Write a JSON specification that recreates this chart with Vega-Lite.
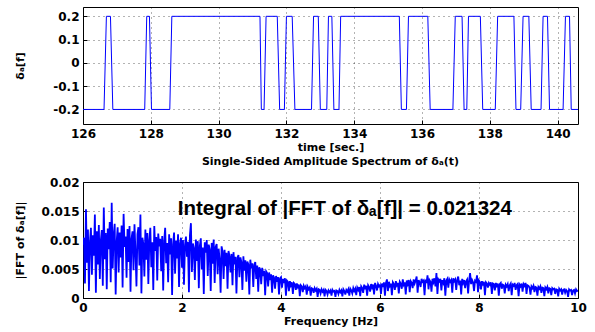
{
  "$schema": "https://vega.github.io/schema/vega-lite/v6.json",
  "background": "white",
  "padding": {"left": 13, "top": 6, "right": 5, "bottom": 0},
  "spacing": 2,
  "config": {
    "font": "DejaVu Sans",
    "view": {"stroke": "black", "strokeWidth": 1},
    "axis": {
      "labelFont": "DejaVu Sans", "labelFontWeight": "bold", "labelFontSize": 12, "labelColor": "black",
      "titleFont": "DejaVu Sans", "titleFontWeight": "bold", "titleFontSize": 11, "titleColor": "black",
      "domain": false, "tickColor": "black", "tickSize": -4, "labelPadding": 8,
      "labelOverlap": false, "labelFlush": false,
      "grid": true, "gridColor": "black", "gridDash": [1, 4], "gridOpacity": 0.6
    },
    "axisY": {"minExtent": 40, "maxExtent": 40, "titlePadding": 18},
    "axisX": {"titlePadding": 2}
  },
  "vconcat": [
    {
      "width": 495,
      "height": 117,
      "data": {"values": [
        {"t": 126.0, "d": -0.2}, {"t": 126.62, "d": -0.2}, {"t": 126.69, "d": 0.2}, {"t": 126.81, "d": 0.2}, {"t": 126.88, "d": -0.2},
        {"t": 127.82, "d": -0.2}, {"t": 127.88, "d": 0.2}, {"t": 127.96, "d": 0.2}, {"t": 128.02, "d": -0.2},
        {"t": 128.56, "d": -0.2}, {"t": 128.62, "d": 0.2}, {"t": 131.22, "d": 0.2}, {"t": 131.26, "d": -0.2},
        {"t": 131.34, "d": -0.2}, {"t": 131.40, "d": 0.2}, {"t": 131.73, "d": 0.2}, {"t": 131.80, "d": -0.2},
        {"t": 131.94, "d": -0.2}, {"t": 132.00, "d": 0.2}, {"t": 132.17, "d": 0.2}, {"t": 132.25, "d": -0.2},
        {"t": 132.74, "d": -0.2}, {"t": 132.80, "d": 0.2}, {"t": 132.94, "d": 0.2}, {"t": 133.00, "d": -0.2},
        {"t": 133.19, "d": -0.2}, {"t": 133.24, "d": 0.2}, {"t": 133.34, "d": 0.2}, {"t": 133.40, "d": -0.2},
        {"t": 133.55, "d": -0.2}, {"t": 133.60, "d": 0.2}, {"t": 135.33, "d": 0.2}, {"t": 135.39, "d": -0.2},
        {"t": 135.54, "d": -0.2}, {"t": 135.60, "d": 0.2}, {"t": 136.17, "d": 0.2}, {"t": 136.24, "d": -0.2},
        {"t": 136.91, "d": -0.2}, {"t": 136.98, "d": 0.2}, {"t": 137.18, "d": 0.2}, {"t": 137.24, "d": -0.2},
        {"t": 137.32, "d": -0.2}, {"t": 137.37, "d": 0.2}, {"t": 137.72, "d": 0.2}, {"t": 137.79, "d": -0.2},
        {"t": 138.16, "d": -0.2}, {"t": 138.23, "d": 0.2}, {"t": 138.71, "d": 0.2}, {"t": 138.77, "d": -0.2},
        {"t": 138.91, "d": -0.2}, {"t": 138.98, "d": 0.2}, {"t": 139.15, "d": 0.2}, {"t": 139.22, "d": -0.2},
        {"t": 139.51, "d": -0.2}, {"t": 139.57, "d": 0.2}, {"t": 139.70, "d": 0.2}, {"t": 139.76, "d": -0.2},
        {"t": 140.16, "d": -0.2}, {"t": 140.23, "d": 0.2}, {"t": 140.35, "d": 0.2}, {"t": 140.40, "d": -0.2},
        {"t": 140.6, "d": -0.2}
      ]},
      "mark": {"type": "line", "color": "#0000ff", "strokeWidth": 1, "clip": true},
      "encoding": {
        "x": {"field": "t", "type": "quantitative",
              "scale": {"domain": [126, 140.6], "nice": false, "zero": false},
              "axis": {"values": [126, 128, 130, 132, 134, 136, 138, 140], "title": "time [sec.]"}},
        "y": {"field": "d", "type": "quantitative",
              "scale": {"domain": [-0.2625, 0.24], "nice": false, "zero": false},
              "axis": {"values": [-0.2, -0.1, 0, 0.1, 0.2],
                       "labelExpr": "replace(format(datum.value, '.1~f'), '−', '-')",
                       "title": "δₐ[f]"}}
      }
    },
    {
      "width": 495,
      "height": 116,
      "title": {"text": "Single-Sided Amplitude Spectrum of  δₐ(t)", "font": "DejaVu Sans", "fontSize": 11,
                "fontWeight": "bold", "color": "black", "offset": 9, "anchor": "middle"},
      "encoding": {
        "x": {"field": "f", "type": "quantitative",
              "scale": {"domain": [0, 10], "nice": false},
              "axis": {"values": [0, 2, 4, 6, 8, 10], "title": "Frequency [Hz]"}},
        "y": {"field": "v", "type": "quantitative",
              "scale": {"domain": [0, 0.02], "nice": false},
              "axis": {"values": [0, 0.005, 0.01, 0.015, 0.02], "format": ".3~f", "title": "|FFT of δₐ[f]|"}}
      },
      "layer": [
        {
          "data": {"values": [
            {"f":0,"v":0.0092},{"f":0.02,"v":0.0104},{"f":0.04,"v":0.0025},{"f":0.06,"v":0.0153},{"f":0.08,"v":0.0061},
            {"f":0.1,"v":0.0118},{"f":0.12,"v":0.0012},{"f":0.14,"v":0.0096},{"f":0.16,"v":0.0121},{"f":0.18,"v":0.0040},
            {"f":0.2,"v":0.0108},{"f":0.22,"v":0.0073},{"f":0.24,"v":0.0144},{"f":0.26,"v":0.0009},{"f":0.28,"v":0.0115},
            {"f":0.3,"v":0.0058},{"f":0.32,"v":0.0126},{"f":0.34,"v":0.0033},{"f":0.36,"v":0.0099},{"f":0.38,"v":0.0117},
            {"f":0.4,"v":0.0021},{"f":0.42,"v":0.0156},{"f":0.44,"v":0.0067},{"f":0.46,"v":0.0112},{"f":0.48,"v":0.0015},
            {"f":0.5,"v":0.0120},{"f":0.52,"v":0.0084},{"f":0.54,"v":0.0131},{"f":0.56,"v":0.0027},{"f":0.58,"v":0.0164},
            {"f":0.6,"v":0.0051},{"f":0.62,"v":0.0109},{"f":0.64,"v":0.0128},{"f":0.66,"v":0.0006},{"f":0.68,"v":0.0097},
            {"f":0.7,"v":0.0122},{"f":0.72,"v":0.0044},{"f":0.74,"v":0.0113},{"f":0.76,"v":0.0070},{"f":0.78,"v":0.0125},
            {"f":0.8,"v":0.0018},{"f":0.82,"v":0.0145},{"f":0.84,"v":0.0088},{"f":0.86,"v":0.0106},{"f":0.88,"v":0.0035},
            {"f":0.9,"v":0.0119},{"f":0.92,"v":0.0062},{"f":0.94,"v":0.0124},{"f":0.96,"v":0.0011},{"f":0.98,"v":0.0102},
            {"f":1.0,"v":0.0115},{"f":1.02,"v":0.0048},{"f":1.04,"v":0.0127},{"f":1.06,"v":0.0079},{"f":1.08,"v":0.0020},
            {"f":1.1,"v":0.0110},{"f":1.12,"v":0.0122},{"f":1.14,"v":0.0056},{"f":1.16,"v":0.0144},{"f":1.18,"v":0.0008},
            {"f":1.2,"v":0.0104},{"f":1.22,"v":0.0093},{"f":1.24,"v":0.0037},{"f":1.26,"v":0.0118},{"f":1.28,"v":0.0066},
            {"f":1.3,"v":0.0112},{"f":1.32,"v":0.0024},{"f":1.34,"v":0.0100},{"f":1.36,"v":0.0121},{"f":1.38,"v":0.0053},
            {"f":1.4,"v":0.0096},{"f":1.42,"v":0.0014},{"f":1.44,"v":0.0124},{"f":1.46,"v":0.0081},{"f":1.48,"v":0.0105},
            {"f":1.5,"v":0.0030},{"f":1.52,"v":0.0111},{"f":1.54,"v":0.0089},{"f":1.56,"v":0.0102},{"f":1.58,"v":0.0046},
            {"f":1.6,"v":0.0107},{"f":1.62,"v":0.0013},{"f":1.64,"v":0.0098},{"f":1.66,"v":0.0121},{"f":1.68,"v":0.0060},
            {"f":1.7,"v":0.0095},{"f":1.72,"v":0.0027},{"f":1.74,"v":0.0110},{"f":1.76,"v":0.0075},{"f":1.78,"v":0.0103},
            {"f":1.8,"v":0.0005},{"f":1.82,"v":0.0092},{"f":1.84,"v":0.0113},{"f":1.86,"v":0.0042},{"f":1.88,"v":0.0099},
            {"f":1.9,"v":0.0068},{"f":1.92,"v":0.0110},{"f":1.94,"v":0.0019},{"f":1.96,"v":0.0094},{"f":1.98,"v":0.0104},
            {"f":2.0,"v":0.0052},{"f":2.02,"v":0.0100},{"f":2.04,"v":0.0023},{"f":2.06,"v":0.0091},{"f":2.08,"v":0.0106},
            {"f":2.1,"v":0.0071},{"f":2.12,"v":0.0097},{"f":2.14,"v":0.0010},{"f":2.16,"v":0.0108},{"f":2.18,"v":0.0129},
            {"f":2.2,"v":0.0045},{"f":2.22,"v":0.0094},{"f":2.24,"v":0.0086},{"f":2.26,"v":0.0031},{"f":2.28,"v":0.0101},
            {"f":2.3,"v":0.0064},{"f":2.32,"v":0.0098},{"f":2.34,"v":0.0017},{"f":2.36,"v":0.0090},{"f":2.38,"v":0.0103},
            {"f":2.4,"v":0.0049},{"f":2.42,"v":0.0087},{"f":2.44,"v":0.0007},{"f":2.46,"v":0.0096},{"f":2.48,"v":0.0078},
            {"f":2.5,"v":0.0100},{"f":2.52,"v":0.0038},{"f":2.54,"v":0.0092},{"f":2.56,"v":0.0084},{"f":2.58,"v":0.0012},
            {"f":2.6,"v":0.0095},{"f":2.62,"v":0.0059},{"f":2.64,"v":0.0101},{"f":2.66,"v":0.0026},{"f":2.68,"v":0.0088},
            {"f":2.7,"v":0.0093},{"f":2.72,"v":0.0041},{"f":2.74,"v":0.0085},{"f":2.76,"v":0.0067},{"f":2.78,"v":0.0009},
            {"f":2.8,"v":0.0089},{"f":2.82,"v":0.0080},{"f":2.84,"v":0.0033},{"f":2.86,"v":0.0083},{"f":2.88,"v":0.0055},
            {"f":2.9,"v":0.0078},{"f":2.92,"v":0.0016},{"f":2.94,"v":0.0081},{"f":2.96,"v":0.0072},{"f":2.98,"v":0.0044},
            {"f":3.0,"v":0.0076},{"f":3.02,"v":0.0022},{"f":3.04,"v":0.0079},{"f":3.06,"v":0.0058},{"f":3.08,"v":0.0071},
            {"f":3.1,"v":0.0008},{"f":3.12,"v":0.0069},{"f":3.14,"v":0.0074},{"f":3.16,"v":0.0036},{"f":3.18,"v":0.0070},
            {"f":3.2,"v":0.0062},{"f":3.22,"v":0.0014},{"f":3.24,"v":0.0072},{"f":3.26,"v":0.0047},{"f":3.28,"v":0.0065},
            {"f":3.3,"v":0.0028},{"f":3.32,"v":0.0063},{"f":3.34,"v":0.0058},{"f":3.36,"v":0.0006},{"f":3.38,"v":0.0066},
            {"f":3.4,"v":0.0051},{"f":3.42,"v":0.0060},{"f":3.44,"v":0.0019},{"f":3.46,"v":0.0057},{"f":3.48,"v":0.0062},
            {"f":3.5,"v":0.0033},{"f":3.52,"v":0.0056},{"f":3.54,"v":0.0011},{"f":3.56,"v":0.0053},{"f":3.58,"v":0.0049},
            {"f":3.6,"v":0.0024},{"f":3.62,"v":0.0052},{"f":3.64,"v":0.0038},{"f":3.66,"v":0.0047},{"f":3.68,"v":0.0005},
            {"f":3.7,"v":0.0046},{"f":3.72,"v":0.0043},{"f":3.74,"v":0.0020},{"f":3.76,"v":0.0044},{"f":3.78,"v":0.0031},
            {"f":3.8,"v":0.0041},{"f":3.82,"v":0.0009},{"f":3.84,"v":0.0039},{"f":3.86,"v":0.0035},{"f":3.88,"v":0.0016},
            {"f":3.9,"v":0.0038},{"f":3.92,"v":0.0028},{"f":3.94,"v":0.0036},{"f":3.96,"v":0.0006},{"f":3.98,"v":0.0034},
            {"f":4.0,"v":0.0036},{"f":4.02,"v":0.0018},{"f":4.04,"v":0.0033},{"f":4.06,"v":0.0026},{"f":4.08,"v":0.0034},
            {"f":4.1,"v":0.0004},{"f":4.12,"v":0.0030},{"f":4.14,"v":0.0028},{"f":4.16,"v":0.0012},{"f":4.18,"v":0.0029},
            {"f":4.2,"v":0.0022},{"f":4.22,"v":0.0027},{"f":4.24,"v":0.0007},{"f":4.26,"v":0.0026},{"f":4.28,"v":0.0024},
            {"f":4.3,"v":0.0014},{"f":4.32,"v":0.0025},{"f":4.34,"v":0.0019},{"f":4.36,"v":0.0023},{"f":4.38,"v":0.0003},
            {"f":4.4,"v":0.0022},{"f":4.42,"v":0.0020},{"f":4.44,"v":0.0010},{"f":4.46,"v":0.0021},{"f":4.48,"v":0.0017},
            {"f":4.5,"v":0.0020},{"f":4.52,"v":0.0006},{"f":4.54,"v":0.0019},{"f":4.56,"v":0.0015},{"f":4.58,"v":0.0018},
            {"f":4.6,"v":0.0004},{"f":4.62,"v":0.0017},{"f":4.64,"v":0.0016},{"f":4.66,"v":0.0009},{"f":4.68,"v":0.0017},
            {"f":4.7,"v":0.0013},{"f":4.72,"v":0.0016},{"f":4.74,"v":0.0002},{"f":4.76,"v":0.0015},{"f":4.78,"v":0.0014},
            {"f":4.8,"v":0.0008},{"f":4.82,"v":0.0015},{"f":4.84,"v":0.0011},{"f":4.86,"v":0.0014},{"f":4.88,"v":0.0003},
            {"f":4.9,"v":0.0014},{"f":4.92,"v":0.0012},{"f":4.94,"v":0.0006},{"f":4.96,"v":0.0013},{"f":4.98,"v":0.0010},
            {"f":5.0,"v":0.0013},{"f":5.02,"v":0.0004},{"f":5.04,"v":0.0014},{"f":5.06,"v":0.0011},{"f":5.08,"v":0.0012},
            {"f":5.1,"v":0.0002},{"f":5.12,"v":0.0013},{"f":5.14,"v":0.0012},{"f":5.16,"v":0.0007},{"f":5.18,"v":0.0014},
            {"f":5.2,"v":0.0010},{"f":5.22,"v":0.0013},{"f":5.24,"v":0.0003},{"f":5.26,"v":0.0015},{"f":5.28,"v":0.0012},
            {"f":5.3,"v":0.0006},{"f":5.32,"v":0.0014},{"f":5.34,"v":0.0011},{"f":5.36,"v":0.0015},{"f":5.38,"v":0.0004},
            {"f":5.4,"v":0.0016},{"f":5.42,"v":0.0013},{"f":5.44,"v":0.0008},{"f":5.46,"v":0.0017},{"f":5.48,"v":0.0012},
            {"f":5.5,"v":0.0016},{"f":5.52,"v":0.0005},{"f":5.54,"v":0.0018},{"f":5.56,"v":0.0014},{"f":5.58,"v":0.0019},
            {"f":5.6,"v":0.0003},{"f":5.62,"v":0.0020},{"f":5.64,"v":0.0017},{"f":5.66,"v":0.0009},{"f":5.68,"v":0.0023},
            {"f":5.7,"v":0.0015},{"f":5.72,"v":0.0021},{"f":5.74,"v":0.0004},{"f":5.76,"v":0.0022},{"f":5.78,"v":0.0019},
            {"f":5.8,"v":0.0011},{"f":5.82,"v":0.0024},{"f":5.84,"v":0.0018},{"f":5.86,"v":0.0023},{"f":5.88,"v":0.0006},
            {"f":5.9,"v":0.0026},{"f":5.92,"v":0.0021},{"f":5.94,"v":0.0013},{"f":5.96,"v":0.0024},{"f":5.98,"v":0.0020},
            {"f":6.0,"v":0.0022},{"f":6.02,"v":0.0007},{"f":6.04,"v":0.0025},{"f":6.06,"v":0.0019},{"f":6.08,"v":0.0027},
            {"f":6.1,"v":0.0004},{"f":6.12,"v":0.0026},{"f":6.14,"v":0.0032},{"f":6.16,"v":0.0012},{"f":6.18,"v":0.0028},
            {"f":6.2,"v":0.0021},{"f":6.22,"v":0.0025},{"f":6.24,"v":0.0005},{"f":6.26,"v":0.0027},{"f":6.28,"v":0.0024},
            {"f":6.3,"v":0.0014},{"f":6.32,"v":0.0029},{"f":6.34,"v":0.0022},{"f":6.36,"v":0.0026},{"f":6.38,"v":0.0008},
            {"f":6.4,"v":0.0028},{"f":6.42,"v":0.0025},{"f":6.44,"v":0.0016},{"f":6.46,"v":0.0032},{"f":6.48,"v":0.0023},
            {"f":6.5,"v":0.0027},{"f":6.52,"v":0.0006},{"f":6.54,"v":0.0030},{"f":6.56,"v":0.0024},{"f":6.58,"v":0.0031},
            {"f":6.6,"v":0.0010},{"f":6.62,"v":0.0029},{"f":6.64,"v":0.0026},{"f":6.66,"v":0.0017},{"f":6.68,"v":0.0032},
            {"f":6.7,"v":0.0025},{"f":6.72,"v":0.0030},{"f":6.74,"v":0.0037},{"f":6.76,"v":0.0009},{"f":6.78,"v":0.0031},
            {"f":6.8,"v":0.0027},{"f":6.82,"v":0.0019},{"f":6.84,"v":0.0033},{"f":6.86,"v":0.0028},{"f":6.88,"v":0.0030},
            {"f":6.9,"v":0.0005},{"f":6.92,"v":0.0032},{"f":6.94,"v":0.0026},{"f":6.96,"v":0.0039},{"f":6.98,"v":0.0015},
            {"f":7.0,"v":0.0031},{"f":7.02,"v":0.0028},{"f":7.04,"v":0.0011},{"f":7.06,"v":0.0033},{"f":7.08,"v":0.0027},
            {"f":7.1,"v":0.0034},{"f":7.12,"v":0.0020},{"f":7.14,"v":0.0043},{"f":7.16,"v":0.0007},{"f":7.18,"v":0.0032},
            {"f":7.2,"v":0.0029},{"f":7.22,"v":0.0033},{"f":7.24,"v":0.0013},{"f":7.26,"v":0.0031},{"f":7.28,"v":0.0026},
            {"f":7.3,"v":0.0034},{"f":7.32,"v":0.0004},{"f":7.34,"v":0.0030},{"f":7.36,"v":0.0033},{"f":7.38,"v":0.0018},
            {"f":7.4,"v":0.0032},{"f":7.42,"v":0.0028},{"f":7.44,"v":0.0031},{"f":7.46,"v":0.0009},{"f":7.48,"v":0.0034},
            {"f":7.5,"v":0.0029},{"f":7.52,"v":0.0032},{"f":7.54,"v":0.0014},{"f":7.56,"v":0.0031},{"f":7.58,"v":0.0037},
            {"f":7.6,"v":0.0022},{"f":7.62,"v":0.0030},{"f":7.64,"v":0.0006},{"f":7.66,"v":0.0033},{"f":7.68,"v":0.0026},
            {"f":7.7,"v":0.0031},{"f":7.72,"v":0.0017},{"f":7.74,"v":0.0029},{"f":7.76,"v":0.0032},{"f":7.78,"v":0.0008},
            {"f":7.8,"v":0.0030},{"f":7.82,"v":0.0043},{"f":7.84,"v":0.0024},{"f":7.86,"v":0.0031},{"f":7.88,"v":0.0027},
            {"f":7.9,"v":0.0012},{"f":7.92,"v":0.0030},{"f":7.94,"v":0.0028},{"f":7.96,"v":0.0039},{"f":7.98,"v":0.0010},
            {"f":8.0,"v":0.0030},{"f":8.02,"v":0.0027},{"f":8.04,"v":0.0015},{"f":8.06,"v":0.0029},{"f":8.08,"v":0.0024},
            {"f":8.1,"v":0.0028},{"f":8.12,"v":0.0005},{"f":8.14,"v":0.0027},{"f":8.16,"v":0.0025},{"f":8.18,"v":0.0018},
            {"f":8.2,"v":0.0026},{"f":8.22,"v":0.0023},{"f":8.24,"v":0.0027},{"f":8.26,"v":0.0007},{"f":8.28,"v":0.0025},
            {"f":8.3,"v":0.0024},{"f":8.32,"v":0.0013},{"f":8.34,"v":0.0026},{"f":8.36,"v":0.0021},{"f":8.38,"v":0.0025},
            {"f":8.4,"v":0.0004},{"f":8.42,"v":0.0024},{"f":8.44,"v":0.0026},{"f":8.46,"v":0.0016},{"f":8.48,"v":0.0023},
            {"f":8.5,"v":0.0022},{"f":8.52,"v":0.0008},{"f":8.54,"v":0.0023},{"f":8.56,"v":0.0020},{"f":8.58,"v":0.0024},
            {"f":8.6,"v":0.0012},{"f":8.62,"v":0.0022},{"f":8.64,"v":0.0025},{"f":8.66,"v":0.0005},{"f":8.68,"v":0.0023},
            {"f":8.7,"v":0.0021},{"f":8.72,"v":0.0026},{"f":8.74,"v":0.0014},{"f":8.76,"v":0.0022},{"f":8.78,"v":0.0024},
            {"f":8.8,"v":0.0003},{"f":8.82,"v":0.0023},{"f":8.84,"v":0.0020},{"f":8.86,"v":0.0025},{"f":8.88,"v":0.0011},
            {"f":8.9,"v":0.0024},{"f":8.92,"v":0.0021},{"f":8.94,"v":0.0026},{"f":8.96,"v":0.0007},{"f":8.98,"v":0.0022},
            {"f":9.0,"v":0.0021},{"f":9.02,"v":0.0018},{"f":9.04,"v":0.0006},{"f":9.06,"v":0.0020},{"f":9.08,"v":0.0017},
            {"f":9.1,"v":0.0021},{"f":9.12,"v":0.0010},{"f":9.14,"v":0.0019},{"f":9.16,"v":0.0018},{"f":9.18,"v":0.0004},
            {"f":9.2,"v":0.0019},{"f":9.22,"v":0.0016},{"f":9.24,"v":0.0020},{"f":9.26,"v":0.0009},{"f":9.28,"v":0.0018},
            {"f":9.3,"v":0.0017},{"f":9.32,"v":0.0003},{"f":9.34,"v":0.0018},{"f":9.36,"v":0.0015},{"f":9.38,"v":0.0019},
            {"f":9.4,"v":0.0008},{"f":9.42,"v":0.0017},{"f":9.44,"v":0.0016},{"f":9.46,"v":0.0005},{"f":9.48,"v":0.0017},
            {"f":9.5,"v":0.0015},{"f":9.52,"v":0.0016},{"f":9.54,"v":0.0007},{"f":9.56,"v":0.0015},{"f":9.58,"v":0.0014},
            {"f":9.6,"v":0.0003},{"f":9.62,"v":0.0016},{"f":9.64,"v":0.0013},{"f":9.66,"v":0.0015},{"f":9.68,"v":0.0006},
            {"f":9.7,"v":0.0014},{"f":9.72,"v":0.0015},{"f":9.74,"v":0.0009},{"f":9.76,"v":0.0014},{"f":9.78,"v":0.0012},
            {"f":9.8,"v":0.0002},{"f":9.82,"v":0.0015},{"f":9.84,"v":0.0013},{"f":9.86,"v":0.0014},{"f":9.88,"v":0.0005},
            {"f":9.9,"v":0.0013},{"f":9.92,"v":0.0014},{"f":9.94,"v":0.0008},{"f":9.96,"v":0.0015},{"f":9.98,"v":0.0012},
            {"f":10.0,"v":0.0013}
          ]},
          "mark": {"type": "line", "color": "#0000ff", "strokeWidth": 1.8, "clip": true}
        },
        {
          "data": {"values": [{"f": 5.29, "v": 0.0153, "label": "Integral of |FFT of δₐ[f]| = 0.021324"}]},
          "mark": {"type": "text", "font": "Liberation Sans", "fontWeight": "bold", "fontSize": 20.5,
                   "align": "center", "baseline": "middle", "color": "black"},
          "encoding": {
            "text": {"field": "label"}
          }
        }
      ]
    }
  ]
}
